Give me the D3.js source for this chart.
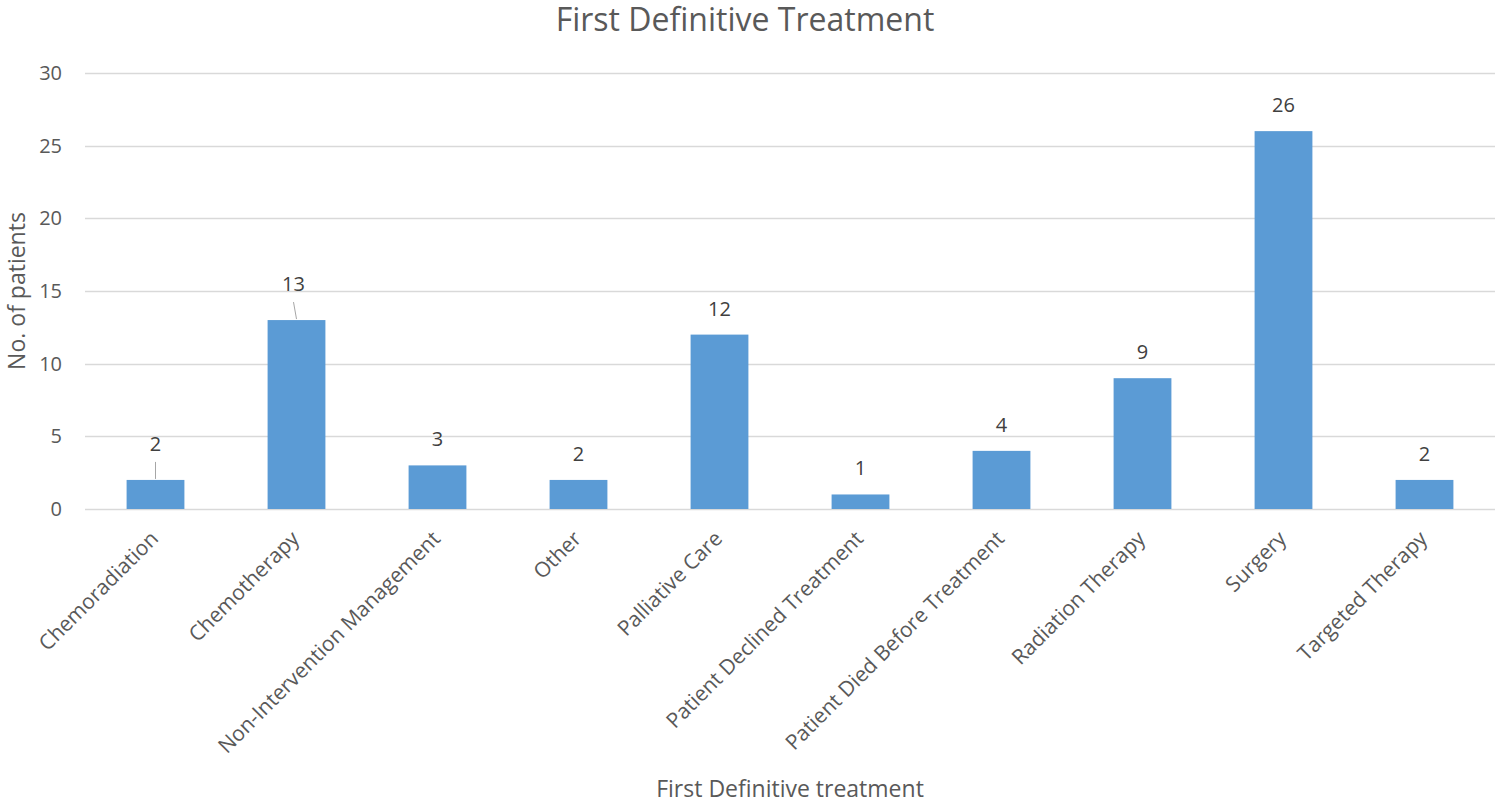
<!DOCTYPE html>
<head>
    <meta charset="utf-8">
    <script src="https://d3js.org/d3.v7.min.js"></script>
    <style>
      body { margin: 0; background: #fff; }
      text { font-family: "Open Sans", sans-serif; fill: #595959; }
      .charttitle { font-size: 32px; }
      .ticklabel { font-size: 20px; }
      .catlabel { font-size: 21px; }
      .axistitle { font-size: 23px; }
      .valuelabel { font-size: 20px; fill: #404040; }
    </style>
</head>
<body>
    <script>
        // data
        var categories = ["Chemoradiation","Chemotherapy","Non-Intervention Management","Other","Palliative Care",
                          "Patient Declined Treatment","Patient Died Before Treatment","Radiation Therapy","Surgery","Targeted Therapy"]
        var patients = [2, 13, 3, 2, 12, 1, 4, 9, 26, 2]
        var yTicks = [0, 5, 10, 15, 20, 25, 30]

        // a couple of value labels were dragged off their bars in the original
        var labelShift = {"Chemoradiation": [0, -10], "Chemotherapy": [-3, -10]}

        var svg_w = 1496, svg_h = 804
        var plotLeft = 85, plotRight = 1495, plotTop = 73, plotBottom = 509

        var svg = d3.select("body").append("svg")
          .attr("width", svg_w)
          .attr("height", svg_h)

        var data = categories.map(function(c, i){ return {cat: c, val: patients[i]} })

        var x = d3.scaleBand().domain(categories).range([plotLeft, plotRight]).paddingInner(0.59).paddingOuter(0.295)
        var y = d3.scaleLinear().domain([0, 30]).range([plotBottom, plotTop])

        // gridlines
        svg.append("g").selectAll("line").data(yTicks).enter().append("line")
          .attr("x1", plotLeft).attr("x2", plotRight)
          .attr("y1", function(d){ return Math.round(y(d)) + 0.5 })
          .attr("y2", function(d){ return Math.round(y(d)) + 0.5 })
          .attr("stroke", "#d9d9d9").attr("stroke-width", 1.3)

        // y tick labels
        svg.append("g").selectAll("text").data(yTicks).enter().append("text")
          .attr("class", "ticklabel")
          .attr("x", 62).attr("y", function(d){ return y(d) + 7 })
          .attr("text-anchor", "end")
          .text(function(d){ return d })

        // bars
        svg.append("g").selectAll("rect").data(data).enter().append("rect")
          .attr("x", function(d){ return x(d.cat) })
          .attr("y", function(d){ return y(d.val) })
          .attr("width", x.bandwidth())
          .attr("height", function(d){ return y(0) - y(d.val) })
          .attr("fill", "#5b9bd5")

        // value labels
        var labels = svg.append("g").selectAll("g").data(data).enter().append("g")
        labels.append("text")
          .attr("class", "valuelabel")
          .attr("text-anchor", "middle")
          .attr("x", function(d){ var s = labelShift[d.cat] || [0, 0]; return x(d.cat) + x.bandwidth()/2 + s[0] })
          .attr("y", function(d){ var s = labelShift[d.cat] || [0, 0]; return y(d.val) - 19 + s[1] })
          .text(function(d){ return d.val })
        labels.filter(function(d){ return labelShift[d.cat] }).append("line")
          .attr("x1", function(d){ return x(d.cat) + x.bandwidth()/2 + labelShift[d.cat][0] })
          .attr("y1", function(d){ return y(d.val) - 18 })
          .attr("x2", function(d){ return x(d.cat) + x.bandwidth()/2 })
          .attr("y2", function(d){ return y(d.val) - 1 })
          .attr("stroke", "#a6a6a6").attr("stroke-width", 1)

        // category labels, rotated
        svg.append("g").selectAll("text").data(categories).enter().append("text")
          .attr("class", "catlabel")
          .attr("text-anchor", "end")
          .attr("transform", function(d){ return "translate(" + (x(d) + x.bandwidth()/2 + 4) + "," + 540 + ") rotate(-45)" })
          .text(function(d){ return d })

        // titles
        svg.append("text").attr("class", "charttitle")
          .attr("x", 745).attr("y", 31).attr("text-anchor", "middle")
          .text("First Definitive Treatment")
        svg.append("text").attr("class", "axistitle")
          .attr("x", (plotLeft + plotRight)/2).attr("y", 797).attr("text-anchor", "middle")
          .text("First Definitive treatment")
        svg.append("text").attr("class", "axistitle")
          .attr("transform", "translate(25," + (plotTop + plotBottom)/2 + ") rotate(-90)")
          .attr("text-anchor", "middle")
          .text("No. of patients")
    </script>
</body>
